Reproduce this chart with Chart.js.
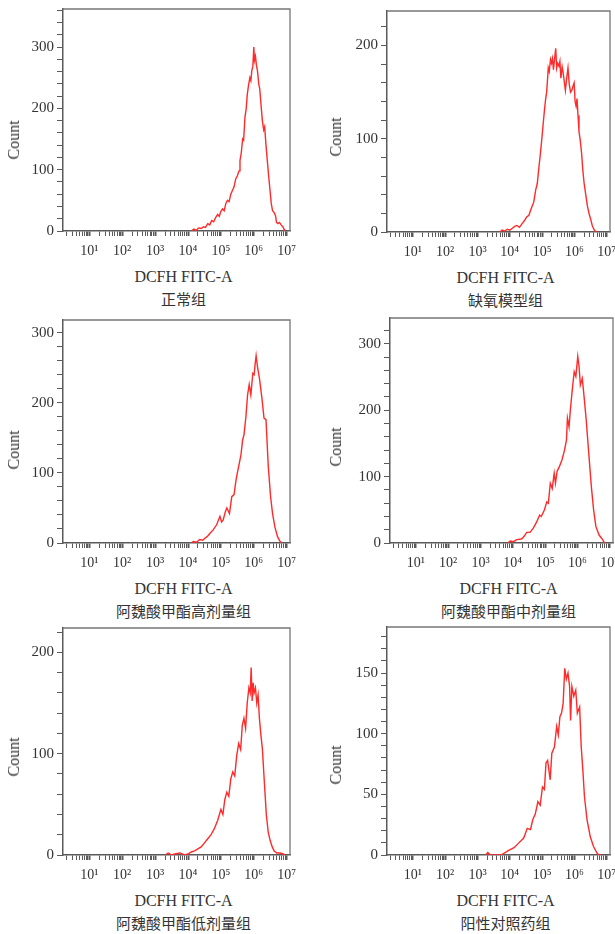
<!DOCTYPE html>
<html>
<head>
<meta charset="utf-8">
<script src="https://cdn.jsdelivr.net/npm/chart.js@4.4.1/dist/chart.umd.min.js"></script>
<style>
  body { margin: 0; width: 615px; height: 934px; background: #fff; position: relative; overflow: hidden;
         font-family: "Liberation Serif", "DejaVu Serif", serif; color: #333; }
  canvas { position: absolute; }
  .lbl { position: absolute; transform: translate(-50%, -50%); white-space: nowrap; }
  .ytitle { font-size: 16px; transform: translate(-50%, -50%) rotate(-90deg); }
  .xtitle { font-size: 16px; }
  .group { font-family: "Noto Sans CJK SC", sans-serif; font-size: 15px; }
</style>
</head>
<body>
<script>
// ---------- data ----------
const xTickExps = [1, 2, 3, 4, 5, 6, 7];
const xTickLabels = ['10¹', '10²', '10³', '10⁴', '10⁵', '10⁶', '10⁷'];
const groupNames = ['正常组', '缺氧模型组', '阿魏酸甲酯高剂量组', '阿魏酸甲酯中剂量组', '阿魏酸甲酯低剂量组', '阳性对照药组'];

// each histogram: log10(DCFH FITC-A) channel and event count
const normalLog = [4.10,4.18,4.25,4.32,4.40,4.47,4.53,4.60,4.66,4.72,4.78,4.84,4.90,4.95,5.00,5.05,5.10,5.15,5.20,5.25,
  5.30,5.35,5.40,5.45,5.50,5.55,5.58,5.62,5.66,5.69,5.73,5.77,5.80,5.84,5.88,5.91,5.94,5.97,6.00,6.02,
  6.05,6.08,6.11,6.15,6.18,6.22,6.26,6.30,6.33,6.37,6.41,6.45,6.49,6.53,6.57,6.62,6.66,6.69,6.73,6.78,6.83,6.88,6.93,6.96];
const normalCount = [0,3,1,5,4,7,6,12,10,17,15,22,27,24,32,36,33,45,50,48,
  60,66,72,85,90,98,115,128,150,148,185,200,222,238,250,245,262,268,300,278,
  285,270,262,240,232,205,180,165,170,140,115,90,68,45,33,30,25,14,12,14,10,7,2,0];

const hypoxiaLog = [3.70,3.76,3.85,3.92,4.00,4.08,4.15,4.22,4.30,4.38,4.45,4.52,4.59,4.66,4.74,4.80,4.85,4.89,4.94,4.98,
  5.03,5.07,5.11,5.14,5.17,5.19,5.22,5.26,5.29,5.32,5.35,5.38,5.42,5.45,5.48,5.52,5.55,5.58,5.62,5.65,
  5.69,5.72,5.76,5.80,5.84,5.88,5.92,5.96,5.99,6.02,6.05,6.08,6.11,6.14,6.18,6.22,6.26,6.30,6.35,6.40,
  6.45,6.50,6.55,6.60,6.64,6.70];
const hypoxiaCount = [0,2,1,3,2,4,6,7,5,9,12,16,18,25,32,45,52,66,82,96,
  115,130,143,150,165,176,172,185,181,186,174,184,197,176,181,178,183,165,177,171,
  160,152,165,176,158,150,152,157,160,140,135,143,125,108,98,85,66,52,40,28,
  20,14,7,3,1,0];

const highDoseLog = [4.10,4.16,4.25,4.36,4.45,4.52,4.60,4.67,4.77,4.87,4.97,5.02,5.07,5.13,5.18,5.26,5.33,5.40,5.46,5.50,
  5.56,5.61,5.66,5.70,5.76,5.81,5.86,5.91,5.97,6.01,6.04,6.07,6.11,6.17,6.24,6.31,6.37,6.44,6.51,6.57,
  6.64,6.72,6.80,6.86];
const highDoseCount = [0,2,1,5,4,7,10,14,19,26,38,30,33,44,50,42,66,69,90,100,
  114,126,147,154,180,211,226,211,242,240,255,267,252,235,209,178,176,109,66,42,
  23,9,2,0];

const midDoseLog = [3.85,3.92,4.02,4.12,4.27,4.35,4.43,4.53,4.63,4.73,4.83,4.88,4.98,5.05,5.10,5.16,5.22,5.28,5.32,5.37,
  5.44,5.52,5.60,5.66,5.69,5.74,5.78,5.84,5.90,5.95,6.01,6.05,6.09,6.15,6.21,6.27,6.35,6.43,6.50,6.57,
  6.67,6.78,6.84];
const midDoseCount = [0,3,2,5,6,10,16,16,22,31,42,40,50,62,60,90,82,105,90,108,
  115,125,140,155,188,175,200,231,258,251,281,266,238,248,218,186,135,85,50,25,
  12,5,0];

const lowDoseLog = [3.30,3.40,3.50,3.60,3.75,3.90,4.00,4.10,4.20,4.30,4.40,4.50,4.60,4.70,4.80,4.90,5.00,5.06,5.12,5.18,
  5.24,5.30,5.36,5.42,5.48,5.54,5.60,5.65,5.70,5.75,5.80,5.85,5.89,5.92,5.95,5.98,6.01,6.05,6.09,6.13,
  6.17,6.21,6.26,6.32,6.38,6.44,6.50,6.56,6.62,6.70,6.80,6.90,6.96];
const lowDoseCount = [0,2,0,1,2,0,1,3,4,6,8,12,16,20,26,34,45,40,55,62,
  58,75,82,78,98,110,104,128,135,125,150,165,160,185,152,170,160,165,150,158,
  135,120,105,72,40,22,14,8,4,2,2,1,0];

const positiveLog = [3.25,3.32,3.40,3.73,3.98,4.13,4.28,4.43,4.54,4.64,4.71,4.79,4.87,4.94,5.01,5.07,5.12,5.17,5.25,5.30,
  5.38,5.45,5.50,5.55,5.60,5.65,5.70,5.75,5.80,5.85,5.88,5.92,5.98,6.04,6.09,6.16,6.21,6.26,6.31,6.39,
  6.49,6.59,6.71,6.81];
const positiveCount = [0,2,0,0,4,6,10,14,22,21,29,34,44,41,56,54,76,78,62,84,
  89,106,99,114,117,125,154,145,150,139,111,139,131,136,117,122,89,70,48,29,
  15,7,1,0];

// ---------- layout ----------
// box = plot area [left, top, right, bottom] in page pixels
const panels = [
  { log: normalLog,   count: normalCount,   name: groupNames[0], yMax: 362, yStep: 20, yLabelStep: 100, box: [63, 9, 290, 231],   canvasLeft: 0,   countY: 140 },
  { log: hypoxiaLog,  count: hypoxiaCount,  name: groupNames[1], yMax: 237, yStep: 20, yLabelStep: 100, box: [387, 11, 610, 232], canvasLeft: 322, countY: 137 },
  { log: highDoseLog, count: highDoseCount, name: groupNames[2], yMax: 318, yStep: 20, yLabelStep: 100, box: [63, 320, 290, 543], canvasLeft: 0,   countY: 450 },
  { log: midDoseLog,  count: midDoseCount,  name: groupNames[3], yMax: 339, yStep: 20, yLabelStep: 100, box: [390, 318, 613, 543], canvasLeft: 322, countY: 447 },
  { log: lowDoseLog,  count: lowDoseCount,  name: groupNames[4], yMax: 224, yStep: 20, yLabelStep: 100, box: [63, 628, 290, 855], canvasLeft: 0,   countY: 757 },
  { log: positiveLog, count: positiveCount, name: groupNames[5], yMax: 188, yStep: 10, yLabelStep: 50,  box: [387, 627, 610, 855], canvasLeft: 322, countY: 765 }
];

const AXIS = '#5a5a5a';
const TEXT = '#333';
const SERIF = '"Liberation Serif", "DejaVu Serif", serif';

// top and right edges of the plot frame
const framePlugin = {
  id: 'frame',
  afterDraw(chart) {
    const { ctx, chartArea: a } = chart;
    ctx.save();
    ctx.strokeStyle = '#777';
    ctx.lineWidth = 1.3;
    ctx.beginPath();
    ctx.moveTo(a.left, a.top);
    ctx.lineTo(a.right, a.top);
    ctx.lineTo(a.right, a.bottom);
    ctx.stroke();
    ctx.restore();
  }
};

function isDecade(v) {
  const e = Math.log10(v);
  return Math.abs(e - Math.round(e)) < 1e-9;
}

// 2..9 x 10^n minor ticks plus decades
function logTicks(min, max) {
  const ticks = [];
  for (let n = 0; n <= 7; n++) {
    for (let k = 1; k <= 9; k++) {
      const v = k * Math.pow(10, n);
      if (v >= min && v <= max) ticks.push({ value: v, major: k === 1 });
    }
  }
  return ticks;
}

// fixed axis sizes, no extra room for overhanging labels
function fixBox(s, w, h) {
  if (w !== null) s.width = w;
  if (h !== null) s.height = h;
  s.paddingLeft = 0;
  s.paddingRight = 0;
  s.paddingTop = 0;
  s.paddingBottom = 0;
}

function addLabel(text, cls, x, y) {
  const d = document.createElement('div');
  d.className = 'lbl ' + cls;
  d.textContent = text;
  d.style.left = x + 'px';
  d.style.top = y + 'px';
  document.body.appendChild(d);
}

function drawPanel(p) {
  const [x0, y0, x1, y1] = p.box;
  const top = y0 - 6;
  const width = p.canvasLeft === 0 ? 300 : 615 - p.canvasLeft;
  const xAxisH = 34;
  const height = y1 - top + xAxisH;

  const cv = document.createElement('canvas');
  cv.width = width;
  cv.height = height;
  cv.style.left = p.canvasLeft + 'px';
  cv.style.top = top + 'px';
  document.body.appendChild(cv);

  new Chart(cv, {
    type: 'line',
    data: {
      datasets: [{
        data: p.log.map((e, i) => ({ x: Math.pow(10, e), y: p.count[i] })),
        borderColor: '#ff2a2a',
        borderWidth: 1.4,
        pointRadius: 0,
        tension: 0,
        fill: false
      }]
    },
    options: {
      responsive: false,
      animation: false,
      devicePixelRatio: 1,
      layout: { padding: { left: 0, top: y0 - top, right: p.canvasLeft + width - x1, bottom: 0 } },
      plugins: { legend: { display: false }, tooltip: { enabled: false } },
      scales: {
        x: {
          type: 'logarithmic',
          min: Math.pow(10, 0.2),
          max: Math.pow(10, 7.1),
          afterFit: s => fixBox(s, null, xAxisH),
          afterBuildTicks: s => { s.ticks = logTicks(s.min, s.max); },
          grid: {
            drawOnChartArea: false,
            tickLength: 5,
            tickColor: AXIS,
            tickWidth: c => (c.tick && c.tick.major ? 2 : 1)
          },
          border: { color: AXIS, width: 1.5 },
          ticks: {
            autoSkip: false,
            maxRotation: 0,
            padding: 7,
            color: TEXT,
            font: { family: SERIF, size: 14 },
            callback: v => {
              if (!isDecade(v)) return '';
              const i = xTickExps.indexOf(Math.round(Math.log10(v)));
              return i >= 0 ? xTickLabels[i] : '';
            }
          }
        },
        y: {
          min: 0,
          max: p.yMax,
          afterFit: s => fixBox(s, x0 - p.canvasLeft, null),
          grid: { drawOnChartArea: false, tickLength: 6, tickColor: AXIS },
          border: { color: AXIS, width: 1.5 },
          ticks: {
            stepSize: p.yStep,
            includeBounds: false,
            autoSkip: false,
            padding: 3,
            color: TEXT,
            font: { family: SERIF, size: 15 },
            callback: v => (v % p.yLabelStep === 0 ? String(v) : '')
          }
        }
      }
    },
    plugins: [framePlugin]
  });

  const cx = (x0 + x1) / 2 + 7;
  addLabel('Count', 'ytitle', p.canvasLeft + 14, p.countY);
  addLabel('DCFH FITC-A', 'xtitle', cx, y1 + 46);
  addLabel(p.name, 'group', cx, y1 + 67);
}

panels.forEach(drawPanel);
</script>
</body>
</html>
